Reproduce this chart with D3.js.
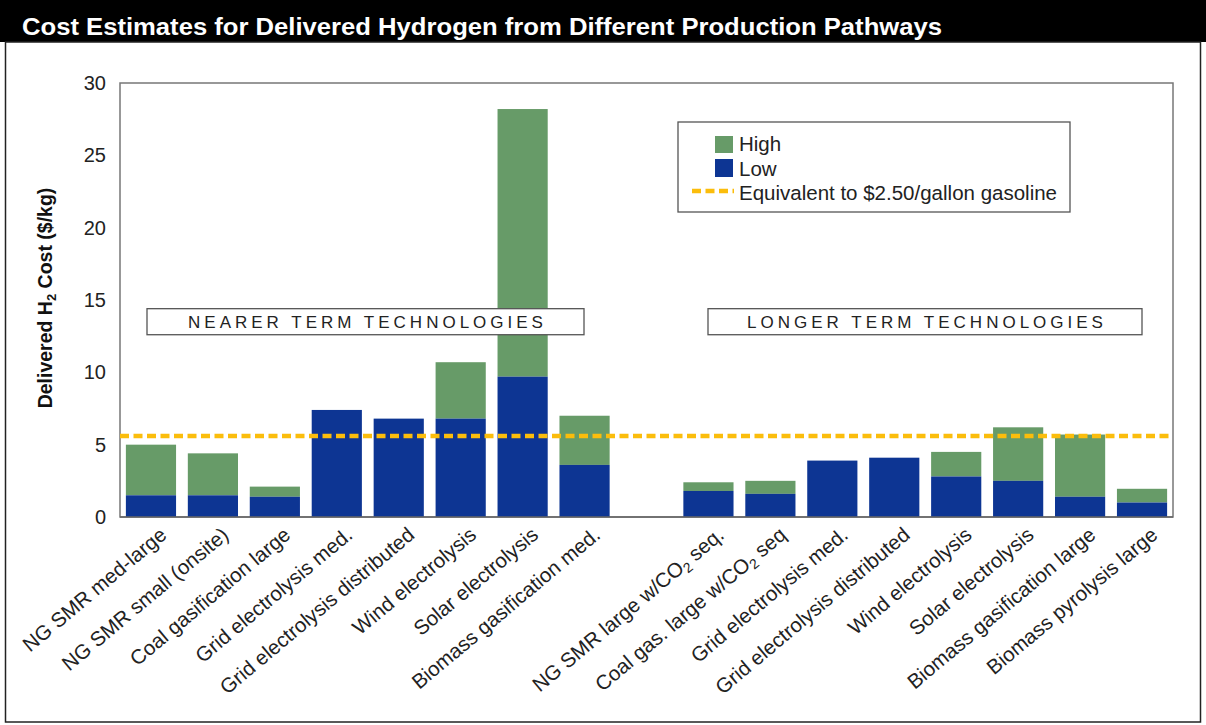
<!DOCTYPE html>
<html>
<head>
<meta charset="utf-8">
<script src="https://cdn.jsdelivr.net/npm/d3@7"></script>
<style>
  body { margin: 0; background: #fff; }
  text { font-family: "Liberation Sans", Arial, sans-serif; }
</style>
</head>
<body>
<div id="chart"></div>
<script>
// chart values
var nearCats = ["NG SMR med-large", "NG SMR small (onsite)", "Coal gasification large",
  "Grid electrolysis med.", "Grid electrolysis distributed", "Wind electrolysis",
  "Solar electrolysis", "Biomass gasification med."];
var longerCats = ["NG SMR large w/CO₂ seq.", "Coal gas. large w/CO₂ seq", "Grid electrolysis med.",
  "Grid electrolysis distributed", "Wind electrolysis", "Solar electrolysis",
  "Biomass gasification large", "Biomass pyrolysis large"];
var nearLow = [1.5, 1.5, 1.4, 7.4, 6.8, 6.8, 9.7, 3.6];
var nearHigh = [5.0, 4.4, 2.1, null, null, 10.7, 28.2, 7.0];
var longerLow = [1.8, 1.6, 3.9, 4.1, 2.8, 2.5, 1.4, 1.0];
var longerHigh = [2.4, 2.5, null, null, 4.5, 6.2, 5.7, 1.95];
var gasolineEq = 5.6;
var yTicks = [0, 5, 10, 15, 20, 25, 30];

var width = 1206, height = 725;
var plotLeft = 120, plotRight = 1173, plotTop = 83, plotBottom = 517;

var green = "#679b68", blue = "#0d3593", gold = "#fbbd0c";

// one row per bar, slot 8 stays empty between the two groups
var rows = [];
nearCats.forEach(function(c, i) { rows.push({ slot: i, name: c, low: nearLow[i], high: nearHigh[i] }); });
longerCats.forEach(function(c, i) { rows.push({ slot: i + 9, name: c, low: longerLow[i], high: longerHigh[i] }); });

var svg = d3.select("#chart").append("svg")
    .attr("width", width)
    .attr("height", height);

//Title bar
svg.append("rect").attr("x", 0).attr("y", 0).attr("width", width).attr("height", 42).attr("fill", "#000");
svg.append("text")
    .attr("x", 22).attr("y", 35)
    .attr("fill", "#fff")
    .attr("font-size", 23)
    .attr("font-weight", "bold")
    .attr("textLength", 920)
    .attr("lengthAdjust", "spacingAndGlyphs")
    .text("Cost Estimates for Delivered Hydrogen from Different Production Pathways");

//Outer frame
svg.append("rect")
    .attr("x", 5.5).attr("y", 42).attr("width", 1195).attr("height", 680)
    .attr("fill", "none").attr("stroke", "#222").attr("stroke-width", 1.5);

//Scales
var x = d3.scaleBand()
    .domain(d3.range(17))
    .range([plotLeft, plotRight])
    .paddingInner(0.19)
    .paddingOuter(0.095);

var y = d3.scaleLinear()
    .domain([0, 30])
    .range([plotBottom, plotTop]);

//Plot frame
svg.append("rect")
    .attr("x", plotLeft).attr("y", plotTop)
    .attr("width", plotRight - plotLeft).attr("height", plotBottom - plotTop)
    .attr("fill", "none").attr("stroke", "#777").attr("stroke-width", 1.5);

//Y axis
var yAxis = svg.append("g")
    .attr("transform", "translate(" + plotLeft + ",0)")
    .call(d3.axisLeft(y).tickValues(yTicks).tickSize(0).tickPadding(14));
yAxis.select(".domain").remove();
yAxis.selectAll("text")
    .attr("font-size", 20)
    .attr("font-family", "'Liberation Sans', Arial, sans-serif")
    .attr("fill", "#222");

// y title with subscript
var yTitle = svg.append("text")
    .attr("transform", "translate(52,298) rotate(-90)")
    .attr("text-anchor", "middle")
    .attr("font-size", 19.5)
    .attr("font-weight", "bold")
    .attr("fill", "#111");
yTitle.append("tspan").text("Delivered H");
yTitle.append("tspan").attr("font-size", 13).attr("dy", 4).text("2");
yTitle.append("tspan").attr("dy", -4).text(" Cost ($/kg)");

//Bars
var bars = svg.append("g").selectAll("g")
    .data(rows)
    .enter()
    .append("g");

bars.filter(function(d) { return d.high != null; })
    .append("rect")
    .attr("x", function(d) { return x(d.slot); })
    .attr("width", x.bandwidth())
    .attr("y", function(d) { return y(d.high); })
    .attr("height", function(d) { return y(d.low) - y(d.high); })
    .attr("fill", green);

bars.append("rect")
    .attr("x", function(d) { return x(d.slot); })
    .attr("width", x.bandwidth())
    .attr("y", function(d) { return y(d.low); })
    .attr("height", function(d) { return y(0) - y(d.low); })
    .attr("fill", blue);

//Group label boxes
function groupBox(x0, x1, label) {
    svg.append("rect")
        .attr("x", x0).attr("y", y(14.4))
        .attr("width", x1 - x0).attr("height", y(12.6) - y(14.4))
        .attr("fill", "#fff").attr("stroke", "#555").attr("stroke-width", 1.3);
    svg.append("text")
        .attr("x", (x0 + x1) / 2 + 2).attr("y", (y(14.4) + y(12.6)) / 2 + 6)
        .attr("text-anchor", "middle")
        .attr("font-size", 17)
        .attr("letter-spacing", 4)
        .attr("fill", "#222")
        .text(label);
}
groupBox(147, 584, "NEARER TERM TECHNOLOGIES");
groupBox(708, 1142, "LONGER TERM TECHNOLOGIES");

//Gasoline line
svg.append("line")
    .attr("x1", plotLeft).attr("x2", plotRight)
    .attr("y1", y(gasolineEq)).attr("y2", y(gasolineEq))
    .attr("stroke", gold).attr("stroke-width", 4.5)
    .attr("stroke-dasharray", "9,4.5");

// baseline on top of bars
svg.append("line")
    .attr("x1", plotLeft).attr("x2", plotRight)
    .attr("y1", plotBottom).attr("y2", plotBottom)
    .attr("stroke", "#666").attr("stroke-width", 1.5);

//X labels
var xLabels = svg.append("g").selectAll("text")
    .data(rows)
    .enter()
    .append("text")
    .attr("transform", function(d) {
        return "translate(" + (x(d.slot) + x.bandwidth() / 2 + 17) + "," + (plotBottom + 20) + ") rotate(-40)";
    })
    .attr("text-anchor", "end")
    .attr("font-size", 20.5)
    .attr("fill", "#222");

xLabels.each(function(d) {
    var t = d3.select(this);
    var parts = d.name.split("₂");
    if (parts.length == 1) {
        t.text(d.name);
    } else {
        t.append("tspan").text(parts[0]);
        t.append("tspan").attr("font-size", 14).attr("dy", 4).text("2");
        t.append("tspan").attr("dy", -4).text(parts[1]);
    }
});

//Legend
var legend = svg.append("g");
legend.append("rect")
    .attr("x", 678).attr("y", 122).attr("width", 392).attr("height", 90)
    .attr("fill", "#fff").attr("stroke", "#555").attr("stroke-width", 1.3);
legend.append("rect").attr("x", 715).attr("y", 136).attr("width", 18).attr("height", 17).attr("fill", green);
legend.append("rect").attr("x", 715).attr("y", 159).attr("width", 18).attr("height", 18).attr("fill", blue);
legend.append("line")
    .attr("x1", 692).attr("x2", 734).attr("y1", 191).attr("y2", 191)
    .attr("stroke", gold).attr("stroke-width", 4.5).attr("stroke-dasharray", "9,4.5");
var legendText = ["High", "Low", "Equivalent to $2.50/gallon gasoline"];
legend.selectAll("text.lg")
    .data(legendText)
    .enter()
    .append("text")
    .attr("x", 739)
    .attr("y", function(d, i) { return 151 + i * 24.5; })
    .attr("font-size", 20.5)
    .attr("fill", "#222")
    .text(function(d) { return d; });
</script>
</body>
</html>
